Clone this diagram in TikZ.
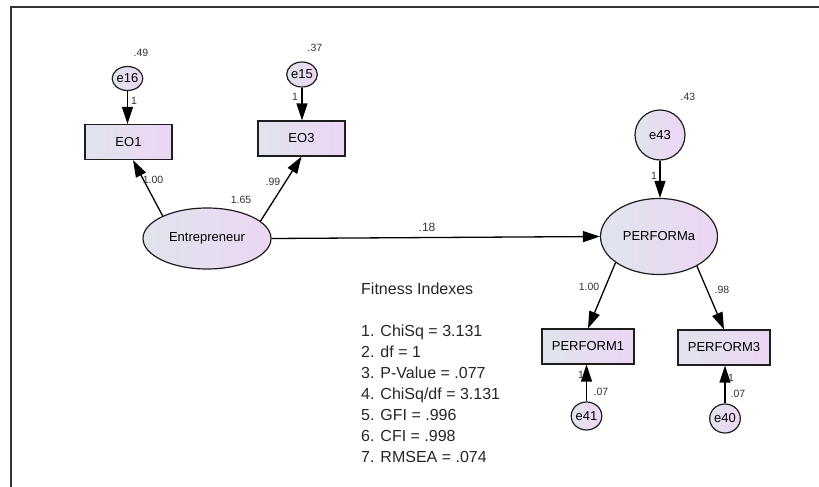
\documentclass[tikz,border=0pt]{standalone}
\usepackage{fontspec}
\setmainfont{Liberation Sans}
\usetikzlibrary{shapes.geometric,arrows.meta,calc}
\definecolor{fillL}{RGB}{224,228,236}
\definecolor{fillR}{RGB}{236,214,244}
\definecolor{edgec}{RGB}{30,30,30}
\begin{document}
\begin{tikzpicture}[x=1pt,y=-1pt,
  obs/.style={rectangle,draw=edgec,line width=1.2pt,left color=fillL,right color=fillR,
    minimum width=#1,minimum height=35pt,inner sep=0pt,font=\fontsize{13}{15}\selectfont},
  lat/.style 2 args={ellipse,draw=edgec,line width=1.2pt,left color=fillL,right color=fillR,
    minimum width=#1,minimum height=#2,inner sep=0pt,font=\fontsize{13}{15}\selectfont},
  lbl/.style={font=\fontsize{10.5}{12}\selectfont,text=black!80,inner sep=0pt},
  path/.style={draw=black,line width=1.3pt,-{Triangle[length=17pt,width=11pt]}}
]
\useasboundingbox (0,0) rectangle (819,487);
\draw[line width=1.6pt,draw=black!80] (819,7) -- (11,7) -- (11,487);

% nodes
\node[lat={27pt}{24pt}] (e16) at (127.5,78.5) {e16};
\node[lat={29pt}{25pt}] (e15) at (302,74.5) {e15};
\node[obs=87pt] (EO1) at (128.5,142) {EO1};
\node[obs=87pt] (EO3) at (301.5,138.5) {EO3};
\node[lat={128pt}{61pt}] (ent) at (207,238.5) {Entrepreneur};
\node[lat={50pt}{50pt}] (e43) at (660,135) {e43};
\node[lat={117pt}{76pt}] (perf) at (659,236.5) {PERFORMa};
\node[obs=92pt] (p1) at (588,346.5) {PERFORM1};
\node[obs=92pt] (p3) at (724,347.5) {PERFORM3};
\node[lat={25pt}{28pt}] (e41) at (586.5,416) {e41};
\node[lat={24pt}{29pt}] (e40) at (725,418.5) {e40};

% connectors
\draw[path] (e16.south) -- (e16.south |- EO1.north);
\draw[path] (e15.south) -- (e15.south |- EO3.north);
\draw[path] (ent.153) -- ([xshift=4.5pt]EO1.south);
\draw[path] (ent.18) -- (EO3.south);
\draw[path] (ent.east) -- (perf.west);
\draw[path] (e43.south) -- (e43.south |- perf.north);
\draw[path] (perf.211) -- (p1.north);
\draw[path] (perf.322) -- (p3.north);
\draw[path] (e41.north) -- (e41.north |- p1.south);
\draw[path] (e40.north) -- (e40.north |- p3.south);

% labels
\node[lbl] (l1) at (141,53) {.49};
\node[lbl] (l2) at (134,101) {1};
\node[lbl] (l3) at (315,48) {.37};
\node[lbl] (l4) at (295,97) {1};
\node[lbl] (l5) at (153,180) {1.00};
\node[lbl] (l6) at (273,182) {.99};
\node[lbl] (l7) at (241,200) {1.65};
\node[lbl,font=\fontsize{12}{14}\selectfont] (l8) at (427,227) {.18};
\node[lbl] (l9) at (688,97) {.43};
\node[lbl] (l10) at (654,176) {1};
\node[lbl] (l11) at (589,287) {1.00};
\node[lbl] (l12) at (722,290) {.98};
\node[lbl] (l13) at (581,375) {1};
\node[lbl] (l14) at (601,392) {.07};
\node[lbl] (l15) at (731,378) {1};
\node[lbl] (l16) at (738,394) {.07};

\node[anchor=north west,align=left,inner sep=0pt,text=black!85,
  font=\fontsize{16}{21}\selectfont] (fit) at (361,282.5)
  {Fitness Indexes\\[21pt]1. ChiSq = 3.131\\2. df = 1\\3. P-Value = .077\\4. ChiSq/df = 3.131\\5. GFI = .996\\6. CFI = .998\\7. RMSEA = .074};
\end{tikzpicture}
\end{document}
